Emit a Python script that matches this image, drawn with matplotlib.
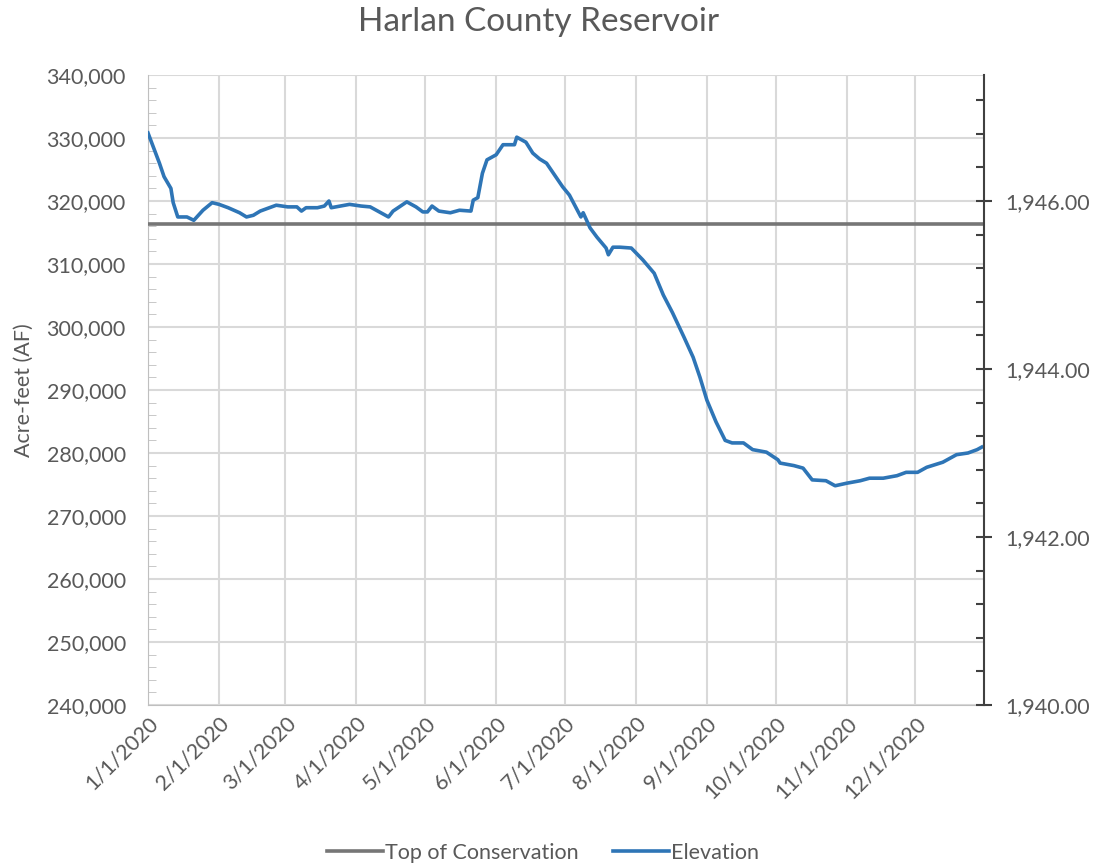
import matplotlib
matplotlib.use("Agg")
import matplotlib.pyplot as plt
import matplotlib.dates as mdates
import matplotlib.ticker as mticker
import pandas as pd

plt.rcParams['font.family'] = ['Lato', 'DejaVu Sans']

# elevation readings (ft) for 2020
dates = ['01-01', '01-06', '01-08', '01-11', '01-12', '01-14', '01-16', '01-18', '01-21', '01-25',
         '01-29', '02-01', '02-05', '02-10', '02-13', '02-16', '02-19', '02-23', '02-26', '03-02',
         '03-06', '03-08', '03-10', '03-15', '03-18', '03-20', '03-21', '03-25', '03-29', '04-03',
         '04-07', '04-11', '04-15', '04-17', '04-23', '04-27', '04-30', '05-02', '05-04', '05-07',
         '05-12', '05-16', '05-21', '05-22', '05-24', '05-26', '05-28', '06-01', '06-04', '06-09',
         '06-10', '06-14', '06-17', '06-20', '06-23', '06-26', '06-30', '07-03', '07-08', '07-09',
         '07-12', '07-15', '07-19', '07-20', '07-22', '07-25', '07-30', '08-04', '08-09', '08-13',
         '08-17', '08-22', '08-26', '08-29', '09-01', '09-05', '09-09', '09-12', '09-17', '09-21',
         '09-27', '10-02', '10-03', '10-09', '10-13', '10-17', '10-23', '10-27', '11-01', '11-07',
         '11-11', '11-17', '11-23', '11-27', '12-02', '12-06', '12-13', '12-19', '12-24', '12-28',
         '12-30']
elevation = [1946.81, 1946.45, 1946.29, 1946.15, 1945.98, 1945.81, 1945.81, 1945.81, 1945.77, 1945.89,
             1945.98, 1945.96, 1945.92, 1945.86, 1945.81, 1945.83, 1945.88, 1945.92, 1945.95, 1945.93,
             1945.93, 1945.88, 1945.92, 1945.92, 1945.94, 1946.00, 1945.92, 1945.94, 1945.96, 1945.94,
             1945.93, 1945.87, 1945.81, 1945.88, 1945.99, 1945.93, 1945.87, 1945.87, 1945.94, 1945.88,
             1945.86, 1945.89, 1945.88, 1946.01, 1946.04, 1946.33, 1946.49, 1946.55, 1946.67, 1946.67,
             1946.76, 1946.70, 1946.57, 1946.50, 1946.45, 1946.33, 1946.17, 1946.07, 1945.81, 1945.86,
             1945.68, 1945.57, 1945.44, 1945.36, 1945.45, 1945.45, 1945.44, 1945.30, 1945.14, 1944.88,
             1944.67, 1944.38, 1944.14, 1943.90, 1943.63, 1943.37, 1943.15, 1943.12, 1943.12, 1943.04,
             1943.01, 1942.92, 1942.88, 1942.85, 1942.82, 1942.68, 1942.67, 1942.61, 1942.64, 1942.67,
             1942.70, 1942.70, 1942.73, 1942.77, 1942.77, 1942.83, 1942.89, 1942.98, 1943.00, 1943.04,
             1943.07]
top_conservation = 1945.73

x = pd.to_datetime(['2020-' + d for d in dates])
start, end = pd.Timestamp('2020-01-01'), pd.Timestamp('2020-12-31')

gray = '#595959'
grid = '#d9d9d9'
fs = 15.5

fig = plt.figure(figsize=(10.97, 8.67), dpi=100)
ax = fig.add_axes([148 / 1097, 1 - 705 / 867, (984 - 148) / 1097, (705 - 75) / 867])
ax2 = ax.twinx()

ax.set_ylim(240000, 340000)
ax.yaxis.set_major_locator(mticker.MultipleLocator(10000))
ax.yaxis.set_minor_locator(mticker.MultipleLocator(2000))
ax.yaxis.set_major_formatter(mticker.StrMethodFormatter('{x:,.0f}'))
ax.set_xlim(start, end)
ax.xaxis.set_major_locator(mdates.MonthLocator())
ax.xaxis.set_major_formatter(mdates.DateFormatter('%-m/%-d/%Y'))
ax.grid(True, which='major', color=grid, linewidth=1.5)
ax.set_axisbelow(True)

for s in ['left', 'bottom', 'top']:
    ax.spines[s].set_color('#bfbfbf')
ax.spines['top'].set_visible(False)
ax.spines['right'].set_visible(False)
ax.tick_params(axis='y', which='major', length=0, labelsize=fs, labelcolor=gray, pad=16)
ax.tick_params(axis='y', which='minor', direction='in', length=6, color='#bfbfbf')
ax.tick_params(axis='x', length=0, labelsize=fs, labelcolor=gray, pad=6)
for lab in ax.get_xticklabels():
    lab.set_rotation(45)
    lab.set_ha('right')
    lab.set_rotation_mode('anchor')
ax.set_ylabel('Acre-feet (AF)', fontsize=fs, color=gray, labelpad=9)

ax2.set_ylim(1940, 1947.5)
ax2.yaxis.set_major_locator(mticker.MultipleLocator(2))
ax2.yaxis.set_minor_locator(mticker.MultipleLocator(0.4))
ax2.yaxis.set_major_formatter(mticker.StrMethodFormatter('{x:,.2f}'))
for s in ['left', 'bottom', 'top']:
    ax2.spines[s].set_visible(False)
ax2.spines['right'].set_color('#404040')
ax2.spines['right'].set_linewidth(1.5)
ax2.tick_params(axis='y', which='major', direction='inout', length=12, width=1.5,
                color='#404040', labelsize=fs, labelcolor=gray, pad=9)
ax2.tick_params(axis='y', which='minor', direction='in', length=6, width=1.5, color='#404040')

l1, = ax2.plot([start, end], [top_conservation, top_conservation], color='#767676',
               linewidth=2.6, label='Top of Conservation')
l2, = ax2.plot(x, elevation, color='#2e75b6', linewidth=2.6, label='Elevation')

fig.text(0.491, 1 - 22 / 867, 'Harlan County Reservoir', ha='center', va='center',
         fontsize=24, color=gray)
fig.legend(handles=[l1, l2], loc='center', bbox_to_anchor=(0.495, 1 - 853 / 867), ncol=2,
           frameon=False, fontsize=fs, labelcolor=gray, handlelength=2.6,
           handletextpad=0.1, columnspacing=1.6)

fig.savefig('out.png', dpi=100)
